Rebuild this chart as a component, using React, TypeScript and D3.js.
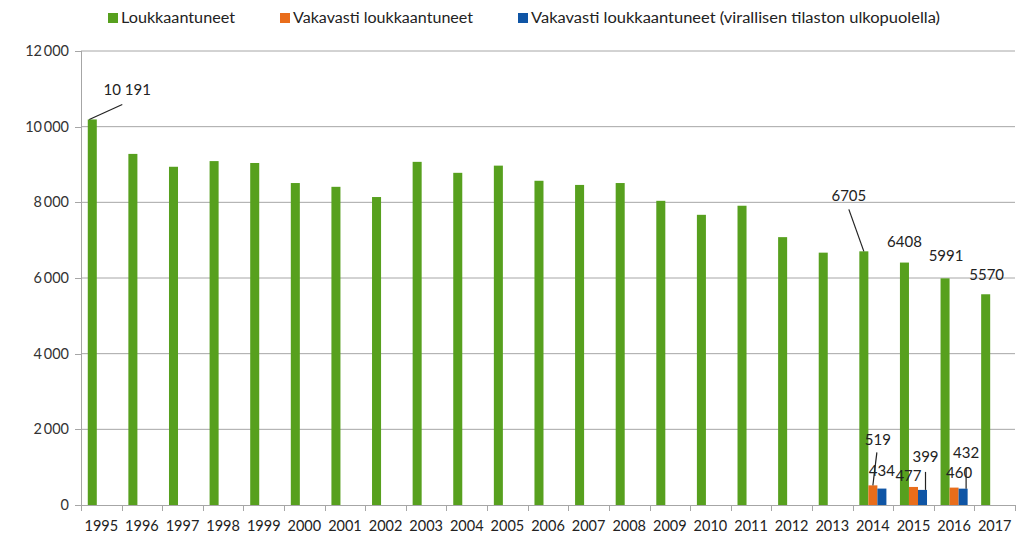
import React, { useEffect, useRef } from "react"
import * as d3 from "d3"

const years = ["1995", "1996", "1997", "1998", "1999", "2000", "2001", "2002", "2003", "2004", "2005", "2006",
  "2007", "2008", "2009", "2010", "2011", "2012", "2013", "2014", "2015", "2016", "2017"]
const injured = [10191, 9280, 8940, 9090, 9040, 8510, 8410, 8140, 9070, 8780, 8970, 8570,
  8460, 8510, 8040, 7670, 7910, 7080, 6670, 6705, 6408, 5991, 5570]
const seriousOfficial = [null, null, null, null, null, null, null, null, null, null, null, null,
  null, null, null, null, null, null, null, 519, 477, 460, null]
const seriousOutside = [null, null, null, null, null, null, null, null, null, null, null, null,
  null, null, null, null, null, null, null, 434, 399, 432, null]
const seriesNames = ["Loukkaantuneet", "Vakavasti loukkaantuneet", "Vakavasti loukkaantuneet (virallisen tilaston ulkopuolella)"]
const colors = ["#57a01e", "#e96d1b", "#0f55a5"]
const yTicks = [0, 2000, 4000, 6000, 8000, 10000, 12000]

// labels shown on the chart: [series, year index, dx, dy, leader]
const labels: [number, number, number, number, boolean][] = [
  [0, 0, 35, -24, true],
  [0, 19, -15, -50, true],
  [0, 20, 0, -16, false],
  [0, 21, 1, -17, false],
  [0, 22, 1, -14, false],
  [1, 19, 5, -40, true],
  [2, 19, 0, -13, false],
  [1, 20, -5, -6, false],
  [2, 20, 3, -28, true],
  [1, 21, 5, -10, false],
  [2, 21, 3, -31, true],
]

const App = () => {
  const ref = useRef(null)

  useEffect(() => {
    const svg = d3.select(ref.current)
    svg.selectAll("*").remove()
    const margin = { top: 51, right: 12, bottom: 32, left: 81 }
    const width = 1027, height = 537
    const innerWidth = width - margin.left - margin.right
    const innerHeight = height - margin.top - margin.bottom
    const font = "Lato, 'Open Sans', sans-serif"

    const x = d3.scaleBand().domain(years).range([0, innerWidth]).paddingInner(0).paddingOuter(0)
    const x1 = d3.scaleBand().domain(["0", "1", "2"]).range([0, x.bandwidth()]).paddingInner(0).paddingOuter(0.75)
    const y = d3.scaleLinear().domain([0, 12000]).range([innerHeight, 0])

    const g = svg.append("g").attr("transform", `translate(${margin.left},${margin.top})`)

    g.selectAll(".grid").data(yTicks.filter(d => d > 0)).join("line")
      .attr("x1", 0).attr("x2", innerWidth)
      .attr("y1", d => y(d)).attr("y2", d => y(d))
      .attr("stroke", "#a6a6a6").attr("stroke-width", 1)

    g.selectAll(".ylab").data(yTicks).join("text")
      .attr("x", -12).attr("y", d => y(d) + 5)
      .attr("text-anchor", "end")
      .attr("font-family", font).attr("font-size", 14.5).attr("fill", "#333")
      .text(d => d === 0 ? "0" : d3.format(",")(d).replace(",", "\u2009"))

    g.append("line").attr("x1", 0.5).attr("x2", 0.5).attr("y1", 0).attr("y2", innerHeight)
      .attr("stroke", "#a6a6a6")
    g.append("line").attr("x1", 0).attr("x2", innerWidth).attr("y1", y(0) + 0.5).attr("y2", y(0) + 0.5)
      .attr("stroke", "#a6a6a6")
    yTicks.forEach(t => {
      g.append("line").attr("x1", -6).attr("x2", 0).attr("y1", Math.round(y(t)) + 0.5).attr("y2", Math.round(y(t)) + 0.5)
        .attr("stroke", "#a6a6a6")
    })

    g.selectAll(".xtick").data(d3.range(years.length + 1)).join("line")
      .attr("x1", i => Math.round(i * x.bandwidth()) + 0.5).attr("x2", i => Math.round(i * x.bandwidth()) + 0.5)
      .attr("y1", innerHeight).attr("y2", innerHeight + 6)
      .attr("stroke", "#a6a6a6")

    g.selectAll(".xlab").data(years).join("text")
      .attr("x", d => x(d)! + x.bandwidth() / 2).attr("y", innerHeight + 26)
      .attr("text-anchor", "middle")
      .attr("font-family", font).attr("font-size", 14.5).attr("fill", "#222")
      .text(d => d)

    const series = [injured, seriousOfficial, seriousOutside]
    series.forEach((vals, s) => {
      g.selectAll(`.bar${s}`).data(years.map((yr, i) => ({ yr, v: vals[i] })).filter(d => d.v != null)).join("rect")
        .attr("x", d => x(d.yr)! + x1(String(s))!)
        .attr("width", x1.bandwidth())
        .attr("y", d => y(d.v as number))
        .attr("height", d => innerHeight - y(d.v as number))
        .attr("fill", colors[s])
    })

    const fmt = (v: number) => v >= 10000 ? d3.format(",")(v).replace(",", " ") : String(v)
    labels.forEach(([s, i, dx, dy, leader]) => {
      const v = series[s][i] as number
      const bx = x(years[i])! + x1(String(s))! + x1.bandwidth() / 2
      const by = y(v)
      const lx = bx + dx, ly = by + dy
      if (leader) {
        let x2 = lx, y2 = ly + 6
        if (s === 0 && i === 0) { x2 = lx - 5; y2 = ly + 9 }
        if (s === 0 && i === 19) { x2 = lx + 0; y2 = ly + 8 }
        if (s === 1) { x2 = lx - 1; y2 = ly + 7 }
        if (s === 2) { x2 = bx + 3; y2 = ly + 10 }
        g.append("line").attr("x1", s === 2 ? bx + 3 : bx - (s === 0 && i === 0 ? 3 : 0)).attr("y1", by)
          .attr("x2", x2).attr("y2", y2)
          .attr("stroke", "#222").attr("stroke-width", 1.2)
      }
      g.append("text").attr("x", lx).attr("y", ly)
        .attr("text-anchor", "middle")
        .attr("font-family", font).attr("font-size", 15).attr("fill", "#222")
        .text(fmt(v))
    })

    const legendX = [108, 280, 518]
    const legendW = [114, 180, 409]
    const lg = svg.append("g")
    seriesNames.forEach((name, s) => {
      lg.append("rect").attr("x", legendX[s]).attr("y", 13).attr("width", 10).attr("height", 10).attr("fill", colors[s])
      lg.append("text").attr("x", legendX[s] + 13).attr("y", 23)
        .attr("font-family", font).attr("font-size", 15.5).attr("fill", "#222")
        .attr("textLength", legendW[s]).attr("lengthAdjust", "spacingAndGlyphs")
        .text(name)
    })
  }, [])

  return (
    <div style={{ position: "absolute", left: 0, top: 0 }}>
      <svg width={1027} height={537} style={{ display: "block", background: "#fff" }} ref={ref} />
    </div>
  )
}

export default App
